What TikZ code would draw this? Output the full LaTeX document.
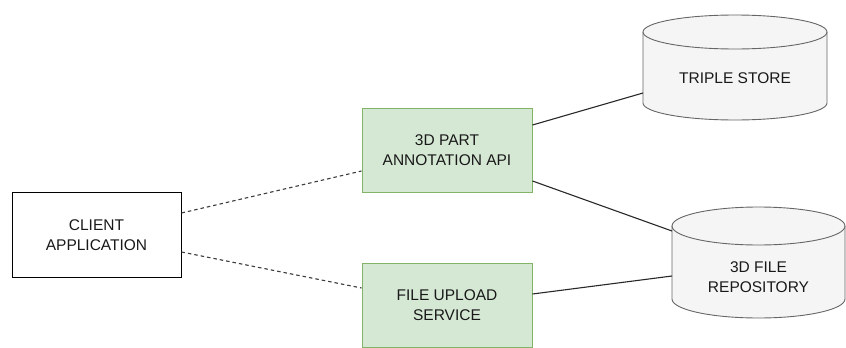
\documentclass[tikz,border=0pt]{standalone}
\usepackage{fontspec}
\setmainfont{Liberation Sans}
\begin{document}
\begin{tikzpicture}[x=1pt,y=-1pt,
  txt/.style={font=\fontsize{15.5}{19.5}\selectfont, align=center, text=black!90},
  plainbox/.style={txt, draw=black, line width=1pt, fill=white, minimum width=169pt, minimum height=85pt, inner sep=0pt},
  svcbox/.style={txt, draw={rgb,255:red,130;green,179;blue,102}, line width=1pt, fill={rgb,255:red,213;green,232;blue,212}, minimum width=170pt, minimum height=84pt, inner sep=0pt},
  cyl/.style={draw={rgb,255:red,102;green,102;blue,102}, line width=0.9pt, fill={rgb,255:red,245;green,245;blue,245}},
  dlink/.style={draw={rgb,255:red,60;green,60;blue,60}, line width=1.1pt, dash pattern=on 3.5pt off 3pt},
  slink/.style={draw={rgb,255:red,40;green,40;blue,40}, line width=1.1pt}
]
\useasboundingbox (0,0) rectangle (846,348);

% database cylinders: body outline, then the front rim of the top ellipse
\path[cyl] (643,32) -- (643,103) arc[start angle=180, end angle=360, x radius=92pt, y radius=17pt] -- (827,32) arc[start angle=0, end angle=180, x radius=92pt, y radius=17pt] -- cycle;
\draw[cyl, fill=none] (643,32) arc[start angle=180, end angle=360, x radius=92pt, y radius=17pt];
\node[txt] (triple) at (735,78) {TRIPLE STORE};
\coordinate (tripleIn) at (643,93);

\path[cyl] (672,226) -- (672,299) arc[start angle=180, end angle=360, x radius=86.5pt, y radius=19pt] -- (845,226) arc[start angle=0, end angle=180, x radius=86.5pt, y radius=19pt] -- cycle;
\draw[cyl, fill=none] (672,226) arc[start angle=180, end angle=360, x radius=86.5pt, y radius=19pt];
\node[txt] (repo) at (758.5,277) {3D FILE\\REPOSITORY};
\coordinate (repoInA) at (672,231);
\coordinate (repoInB) at (672,276);

% boxes
\node[plainbox] (client) at (96.5,235) {CLIENT\\APPLICATION};
\node[svcbox] (api) at (447,150) {3D PART\\ANNOTATION API};
\node[svcbox] (upload) at (447,305) {FILE UPLOAD\\SERVICE};

% connectors
\draw[dlink] ([yshift=22pt]client.east) -- ([yshift=-21pt]api.west);
\draw[dlink] ([yshift=-17pt]client.east) -- ([yshift=17pt]upload.west);
\draw[slink] ([yshift=25pt]api.east) -- (tripleIn);
\draw[slink] ([yshift=-31pt]api.east) -- (repoInA);
\draw[slink] ([yshift=11pt]upload.east) -- (repoInB);
\end{tikzpicture}
\end{document}
